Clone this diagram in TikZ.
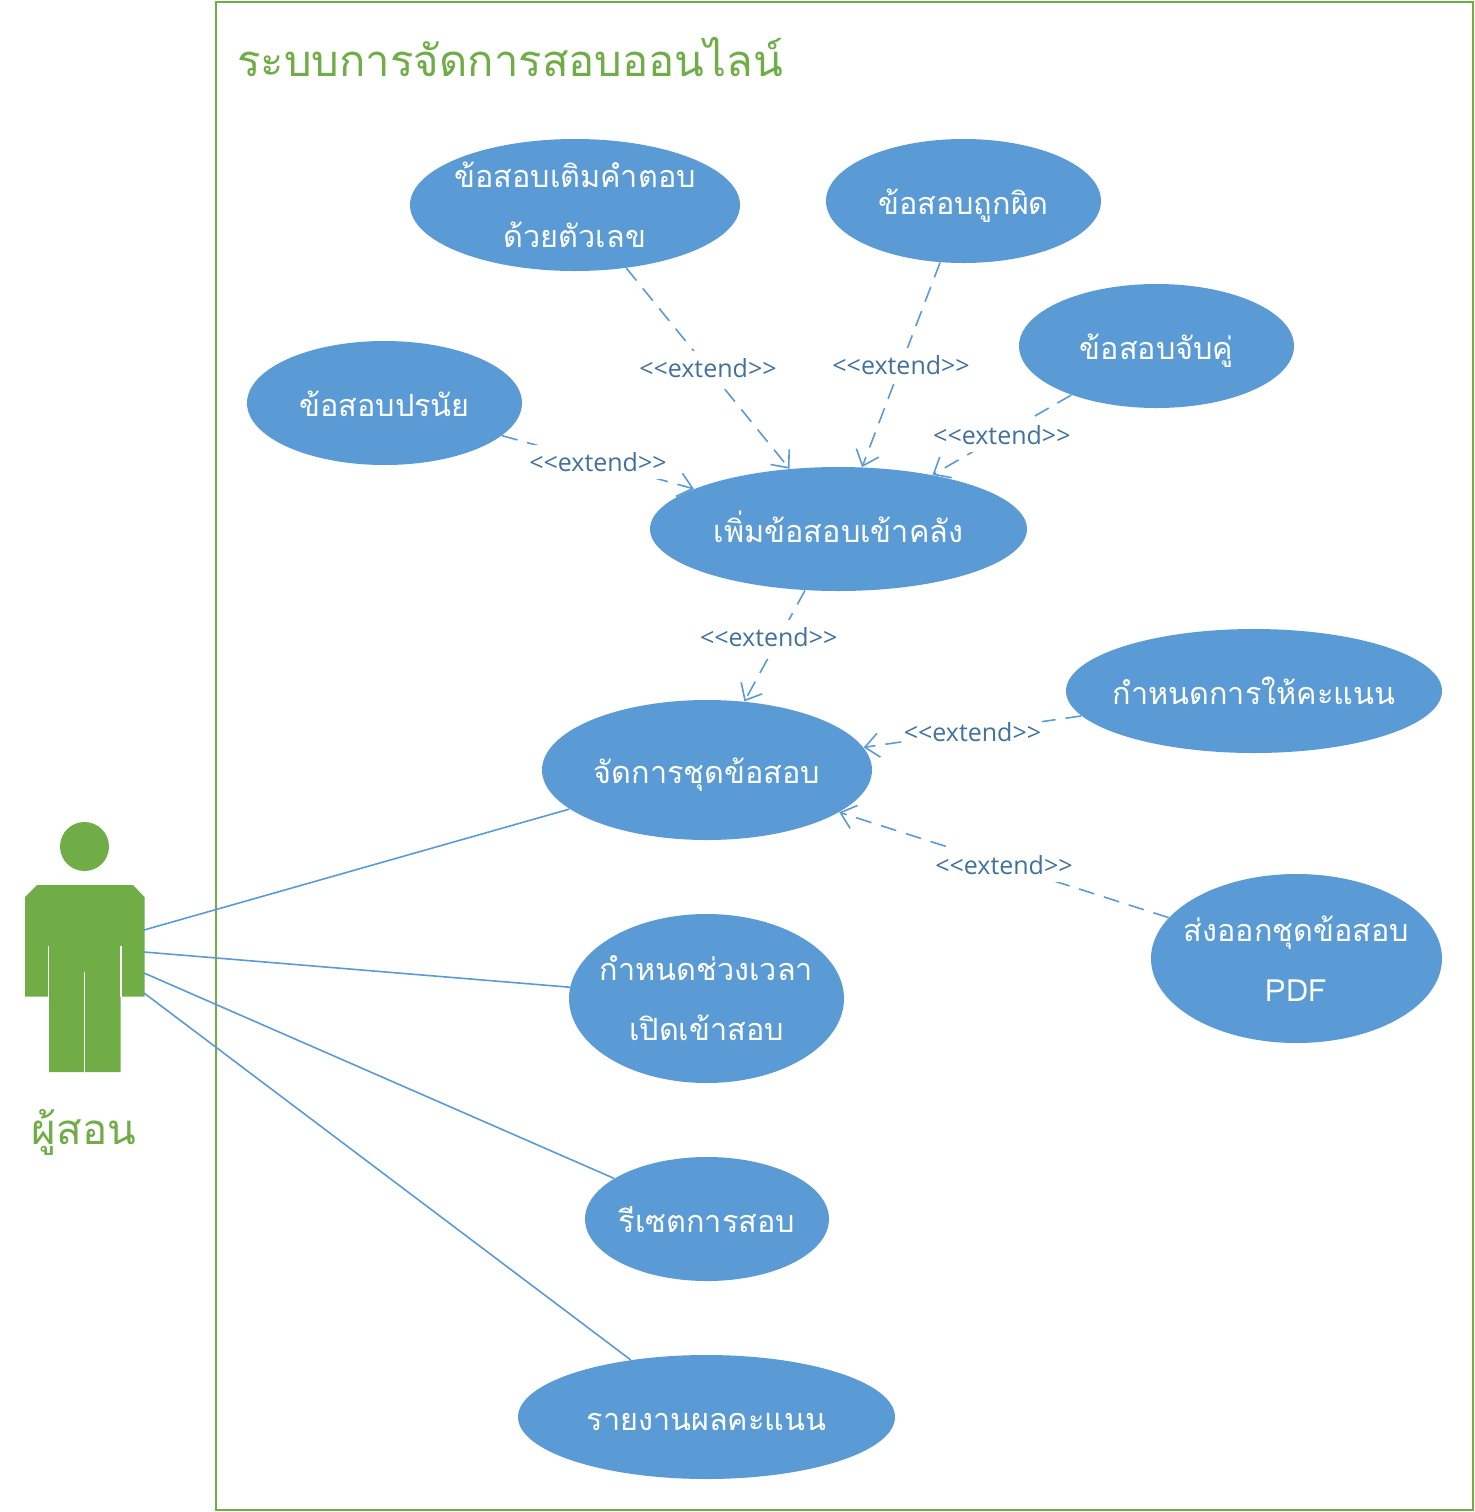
\documentclass[tikz,border=0pt]{standalone}
\usepackage{fontspec}
\usepackage{tikz}
\usetikzlibrary{arrows.meta,shapes.geometric}
\newfontfamily\thaifont[Script=Thai]{Loma}
\setmainfont{Open Sans}[Ligatures=NoCommon]
\newcommand{\extname}{<{}<extend>{}>}
\definecolor{ucblue}{HTML}{5B9BD5}
\definecolor{ucgreen}{HTML}{70AD47}
\definecolor{extblue}{HTML}{41719C}
\tikzset{
  ucase/.style={ellipse, fill=ucblue, inner sep=0pt},
  uctext/.style={text=white, align=center, inner sep=0pt, yshift=-0.5pt, execute at begin node=\strut, execute at end node=\strut, font=\thaifont\fontsize{15.3}{30}\selectfont},
  uctwo/.style={uctext, yshift=-4pt},
  assoc/.style={draw=ucblue, line width=0.8pt},
  extend/.style={draw=ucblue, line width=0.8pt, dash pattern=on 8pt off 5pt, -{Straight Barb[length=7pt,width=12pt]}},
  extlabel/.style={fill=white, text=extblue, inner sep=0.5pt, minimum height=17pt, font=\fontsize{12.5}{15}\selectfont}
}
\begin{document}
\begin{tikzpicture}[x=0.5pt,y=-0.5pt]
\useasboundingbox (0,0) rectangle (1475,1512);

\draw[ucgreen, line width=1pt] (215.5,2) rectangle (1473,1510);
\node[text=ucgreen, anchor=west, inner sep=0pt, font=\thaifont\fontsize{21.8}{25}\selectfont] (title) at (237,57) {ระบบการจัดการสอบออนไลน์};

\node[ucase, minimum width=165pt, minimum height=66pt, label={[uctwo]center:ข้อสอบเติมคำตอบ\\ด้วยตัวเลข}] (v1) at (575,205) {};
\node[ucase, minimum width=137.5pt, minimum height=62pt, label={[uctext]center:ข้อสอบถูกผิด}] (v2) at (963.5,201) {};
\node[ucase, minimum width=137.5pt, minimum height=62pt, label={[uctext]center:ข้อสอบจับคู่}] (v3) at (1156.5,346) {};
\node[ucase, minimum width=137.5pt, minimum height=62pt, label={[uctext]center:ข้อสอบปรนัย}] (v4) at (384.5,403) {};
\node[ucase, minimum width=188.5pt, minimum height=62pt, label={[uctext]center:เพิ่มข้อสอบเข้าคลัง}] (v5) at (838.5,529) {};
\node[ucase, minimum width=165pt, minimum height=70pt, label={[uctext]center:จัดการชุดข้อสอบ}] (v6) at (707,770) {};
\node[ucase, minimum width=188pt, minimum height=62pt, label={[uctext]center:กำหนดการให้คะแนน}] (v7) at (1254,691) {};
\node[ucase, minimum width=145.5pt, minimum height=84.5pt, label={[uctwo]center:ส่งออกชุดข้อสอบ\\PDF}] (v8) at (1296.5,958.5) {};
\node[ucase, minimum width=137.5pt, minimum height=84.5pt, label={[uctwo]center:กำหนดช่วงเวลา\\เปิดเข้าสอบ}] (v9) at (706.5,998.5) {};
\node[ucase, minimum width=122pt, minimum height=62pt, label={[uctext]center:รีเซตการสอบ}] (v10) at (707,1219) {};
\node[ucase, minimum width=188.5pt, minimum height=62pt, label={[uctext]center:รายงานผลคะแนน}] (v11) at (706.5,1417) {};

\node[circle, fill=ucgreen, inner sep=0pt, minimum size=24.5pt] (head) at (84.5,846.5) {};
\fill[ucgreen] (37,885) -- (133,885) -- (144.5,897) -- (144.5,996.5) -- (120.5,996.5) -- (120.5,1072) -- (49,1072) -- (49,996.5) -- (25,996.5) -- (25,897) -- cycle;
\draw[white, line width=0.7pt] (48.5,946) -- (48.5,997);
\draw[white, line width=0.7pt] (121,946) -- (121,997);
\draw[white, line width=0.7pt] (84.7,972) -- (84.7,1073);
\node[text=ucgreen, inner sep=0pt, font=\thaifont\fontsize{21}{25}\selectfont] (actorname) at (84,1132) {ผู้สอน};

\coordinate (a1) at (144,930);
\coordinate (a2) at (144,952);
\coordinate (a3) at (144,973);
\coordinate (a4) at (144,993);

\draw[assoc] (a1) -- (v6);
\draw[assoc] (a2) -- (v9);
\draw[assoc] (a3) -- (v10);
\draw[assoc] (a4) -- (v11);

\draw[extend] (v1) -- node[extlabel] {\extname} (v5);
\draw[extend] (v2) -- node[extlabel] {\extname} (v5);
\draw[extend] (v3) -- node[extlabel] {\extname} (v5);
\draw[extend] (v4) -- node[extlabel] {\extname} (v5);
\draw[extend] (v5) -- node[extlabel, xshift=-3pt, yshift=4.5pt] {\extname} (v6);
\draw[extend] (v7) -- node[extlabel] {\extname} (v6);
\draw[extend] (v8) -- node[extlabel] {\extname} (v6);

\end{tikzpicture}
\end{document}
